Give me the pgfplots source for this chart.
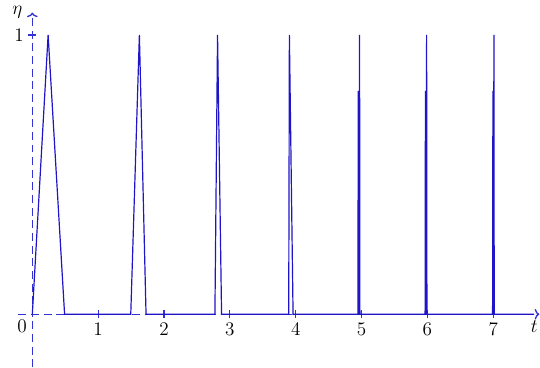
\documentclass[border=0pt]{standalone}
\usepackage{pgfplots}
\pgfplotsset{compat=1.18}
\usetikzlibrary{arrows.meta}
\definecolor{axblue}{RGB}{50,50,215}
\definecolor{lnblue}{RGB}{30,20,200}
\begin{document}
\begin{tikzpicture}
\begin{axis}[
  x=49.5pt, y=210pt,
  axis lines=middle,
  axis line style={color=axblue, line width=1pt, dash pattern=on 6pt off 3.5pt, -{To[length=3.5pt,width=8pt]}},
  xmin=-0.21, xmax=7.7, ymin=-0.19, ymax=1.08,
  xtick={1,2,3,4,5,6,7}, ytick={1},
  tick style={color=axblue, line width=0.9pt, solid},
  major tick length=6pt,
  tick align=center,
  ticklabel style={font=\fontsize{14.5}{16}\selectfont},
  xlabel={$t$}, ylabel={$\eta$},
  xlabel style={at={(axis description cs:1,0.1496)}, anchor=north east, font=\fontsize{15}{17}\selectfont, inner sep=1pt, yshift=-4pt},
  ylabel style={at={(axis description cs:0.02655,1)}, anchor=east, font=\fontsize{15}{17}\selectfont, xshift=-4pt},
  clip=false,
]
\path (axis description cs:-0.0355,0) rectangle (axis description cs:1,1.0354);
\addplot[lnblue, line width=0.9pt, line join=miter] coordinates {
  (0,0) (0.24,1) (0.49,0) (1.495,0) (1.626,1) (1.727,0)
  (2.773,0) (2.813,1) (2.874,0) (3.894,0) (3.904,1) (3.96,0)
  (4.945,0) (4.95,0.8) (4.955,0) (4.965,0) (4.97,1) (4.975,0)
  (5.965,0) (5.97,0.8) (5.975,0) (5.983,0) (5.988,1) (5.993,0)
  (6.99,0) (6.995,0.8) (7.0,0) (7.005,0) (7.01,1) (7.015,0)
  (7.62,0)
};
\node[anchor=north east, inner sep=4pt, font=\fontsize{14.5}{16}\selectfont] at (axis cs:0,0) {0};
\end{axis}
\end{tikzpicture}
\end{document}
